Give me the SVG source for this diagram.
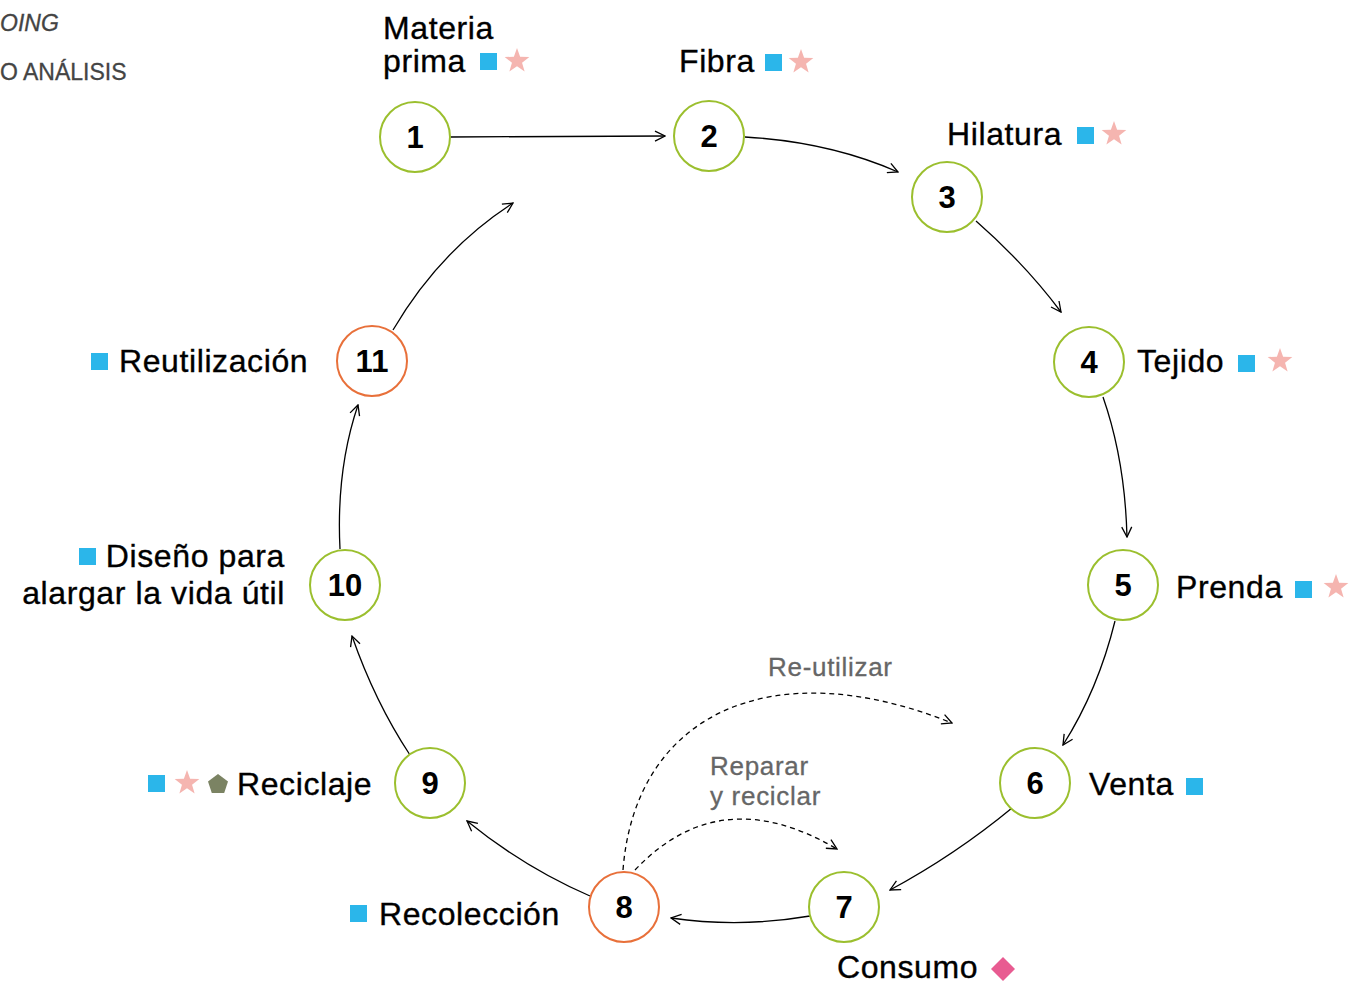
<svg xmlns="http://www.w3.org/2000/svg" width="1363" height="985" viewBox="0 0 1363 985">
<style>
.bg{fill:#ffffff}
.ng circle{fill:#ffffff;stroke:#9bbf2e;stroke-width:2}
.no circle{fill:#ffffff;stroke:#e8703a;stroke-width:2}
.num{font-family:"Liberation Sans",Arial,sans-serif;font-weight:bold;font-size:31px;fill:#000;text-anchor:middle}
.lbl{font-family:"Liberation Sans",Arial,sans-serif;font-size:32px;letter-spacing:0.6px;fill:#000;stroke:#000;stroke-width:0.35}
.gl{font-family:"Liberation Sans",Arial,sans-serif;font-size:26px;letter-spacing:0.7px;fill:#666;stroke:#666;stroke-width:0.3}
.hd{font-family:"Liberation Sans",Arial,sans-serif;font-size:23px;fill:#444;stroke:#444;stroke-width:0.3}
.sq{fill:#2bb6ea}
.st{fill:#f5b5b0}
.edge{fill:none;stroke:#000;stroke-width:1.3;marker-end:url(#arr)}
.dash{fill:none;stroke:#000;stroke-width:1.3;stroke-dasharray:5 4;marker-end:url(#arr)}
</style>
<defs>
<marker id="arr" viewBox="0 0 12 12" refX="11" refY="6" markerWidth="12" markerHeight="12" markerUnits="userSpaceOnUse" orient="auto">
<path d="M1,1 L11,6 L1,11" fill="none" stroke="#000" stroke-width="1.3" stroke-dasharray="none"/>
</marker>
<path id="star" d="M0,-13 L3.12,-4.29 L12.36,-4.02 L5.05,1.64 L7.64,10.52 L0,5.3 L-7.64,10.52 L-5.05,1.64 L-12.36,-4.02 L-3.12,-4.29 Z"/>
</defs>
<rect class="bg" x="0" y="0" width="1363" height="985"/>
<g id="header">
<text class="hd" x="0" y="31" font-style="italic">OING</text>
<text class="hd" x="0" y="80">O ANÁLISIS</text>
</g>
<g id="connectors">
<path class="edge" d="M450,137 L665,136"/>
<path class="edge" d="M745,137 Q830,142 898,172"/>
<path class="edge" d="M976,221 Q1025,264 1061,312"/>
<path class="edge" d="M1103,397 Q1125,460 1127,537"/>
<path class="edge" d="M1115,621 Q1098,690 1063,745"/>
<path class="edge" d="M1012,808 Q955,855 890,890"/>
<path class="edge" d="M810,916 Q740,928 671,918"/>
<path class="edge" d="M590,896 Q525,868 467,821"/>
<path class="edge" d="M410,755 Q375,702 352,636"/>
<path class="edge" d="M340,549 Q336,470 358,405"/>
<path class="edge" d="M393,330 Q440,250 513,203"/>
<path class="dash" d="M623,870 C635,715 770,650 952,723"/>
<path class="dash" d="M635,870 Q720,780 837,849"/>
<text class="gl" x="768" y="676">Re-utilizar</text>
<text class="gl" x="710" y="775">Reparar</text>
<text class="gl" x="710" y="805">y reciclar</text>
</g>
<g id="n1" class="ng">
<circle cx="415" cy="137" r="35"/>
<text class="num" x="415" y="148">1</text>
<text class="lbl" x="383" y="39">Materia</text>
<text class="lbl" x="383" y="72">prima</text>
<rect class="sq" x="480" y="53" width="17" height="17"/>
<use href="#star" class="st" x="517" y="61"/>
</g>
<g id="n2" class="ng">
<circle cx="709" cy="136" r="35"/>
<text class="num" x="709" y="147">2</text>
<text class="lbl" x="679" y="72">Fibra</text>
<rect class="sq" x="765" y="54" width="17" height="17"/>
<use href="#star" class="st" x="801" y="62"/>
</g>
<g id="n3" class="ng">
<circle cx="947" cy="197" r="35"/>
<text class="num" x="947" y="208">3</text>
<text class="lbl" x="947" y="145">Hilatura</text>
<rect class="sq" x="1077" y="127" width="17" height="17"/>
<use href="#star" class="st" x="1114" y="134"/>
</g>
<g id="n4" class="ng">
<circle cx="1089" cy="362" r="35"/>
<text class="num" x="1089" y="373">4</text>
<text class="lbl" x="1137" y="372">Tejido</text>
<rect class="sq" x="1238" y="355" width="17" height="17"/>
<use href="#star" class="st" x="1280" y="361"/>
</g>
<g id="n5" class="ng">
<circle cx="1123" cy="585" r="35"/>
<text class="num" x="1123" y="596">5</text>
<text class="lbl" x="1176" y="598">Prenda</text>
<rect class="sq" x="1295" y="581" width="17" height="17"/>
<use href="#star" class="st" x="1336" y="587"/>
</g>
<g id="n6" class="ng">
<circle cx="1035" cy="783" r="35"/>
<text class="num" x="1035" y="794">6</text>
<text class="lbl" x="1089" y="795">Venta</text>
<rect class="sq" x="1186" y="778" width="17" height="17"/>
</g>
<g id="n7" class="ng">
<circle cx="844" cy="907" r="35"/>
<text class="num" x="844" y="918">7</text>
<text class="lbl" x="837" y="978">Consumo</text>
<path d="M1003,957 L1015,969 L1003,981 L991,969 Z" fill="#e85b91"/>
</g>
<g id="n8" class="no">
<circle cx="624" cy="907" r="35"/>
<text class="num" x="624" y="918">8</text>
<text class="lbl" x="379" y="925">Recolección</text>
<rect class="sq" x="350" y="905" width="17" height="17"/>
</g>
<g id="n9" class="ng">
<circle cx="430" cy="783" r="35"/>
<text class="num" x="430" y="794">9</text>
<text class="lbl" x="237" y="795">Reciclaje</text>
<rect class="sq" x="148" y="775" width="17" height="17"/>
<use href="#star" class="st" x="187" y="783"/>
<path d="M218,774 L228,781.5 L224.2,793 L211.8,793 L208,781.5 Z" fill="#7b8363"/>
</g>
<g id="n10" class="ng">
<circle cx="345" cy="585" r="35"/>
<text class="num" x="345" y="596">10</text>
<text class="lbl" x="285" y="567" text-anchor="end">Diseño para</text>
<text class="lbl" x="285" y="604" text-anchor="end">alargar la vida útil</text>
<rect class="sq" x="79" y="548" width="17" height="17"/>
</g>
<g id="n11" class="no">
<circle cx="372" cy="361" r="35"/>
<text class="num" x="372" y="372">11</text>
<text class="lbl" x="119" y="372">Reutilización</text>
<rect class="sq" x="91" y="353" width="17" height="17"/>
</g>
</svg>
